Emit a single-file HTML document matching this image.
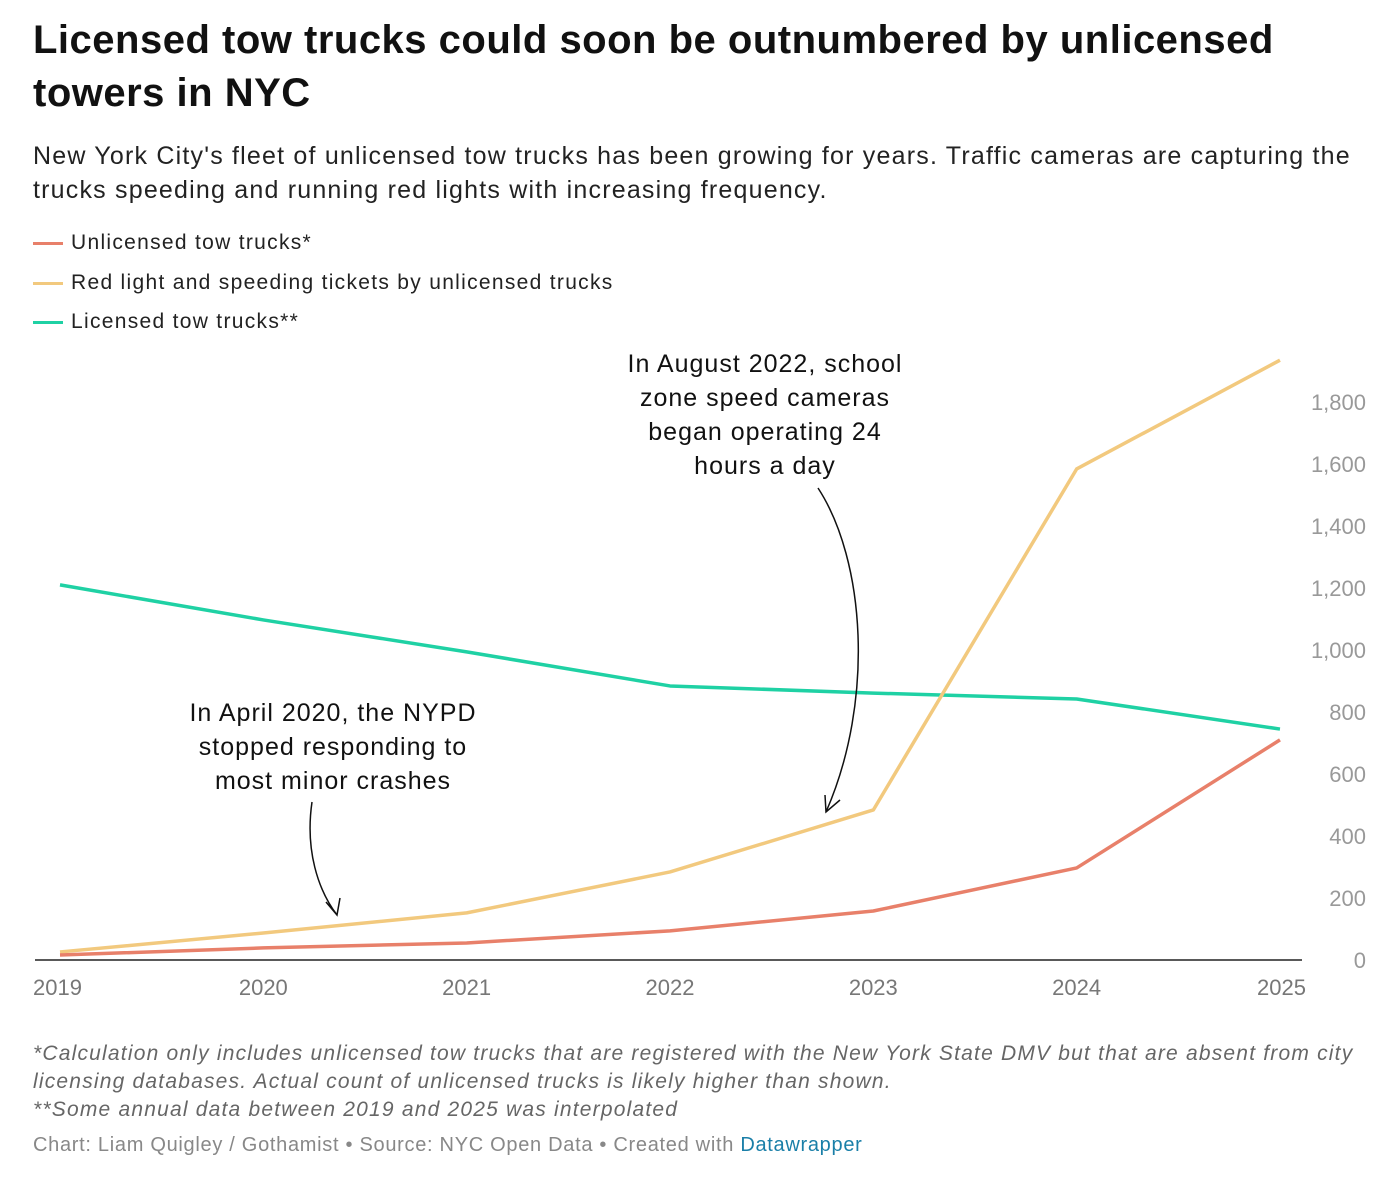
<!DOCTYPE html>
<html><head><meta charset="utf-8">
<style>
body{margin:0;width:1387px;height:1200px;background:#fff;font-family:"Liberation Sans",sans-serif;position:relative;overflow:hidden}
.t{position:absolute;left:33px;top:14px;font-size:40px;font-weight:bold;line-height:53px;color:#111;letter-spacing:0.5px}
.s{position:absolute;left:33px;top:139px;font-size:25px;line-height:34px;color:#222;width:1345px;letter-spacing:1.2px}
.lg{position:absolute;left:33px;font-size:21px;color:#222;letter-spacing:1.3px}
.lg span{display:inline-block;width:30px;height:3px;vertical-align:middle;margin-right:8px}
.f{position:absolute;left:33px;top:1040px;font-size:21px;line-height:28px;font-style:italic;color:#666;letter-spacing:1.2px;white-space:nowrap}
.c{position:absolute;left:33px;top:1134px;font-size:20px;color:#888;letter-spacing:0.7px}
</style></head><body>
<div class="t">Licensed tow trucks could soon be outnumbered by unlicensed<br>towers in NYC</div>
<div class="s">New York City's fleet of unlicensed tow trucks has been growing for years. Traffic cameras are capturing the<br>trucks speeding and running red lights with increasing frequency.</div>
<div class="lg" style="top:231px"><span style="background:#e8806a"></span>Unlicensed tow trucks*</div>
<div class="lg" style="top:271px"><span style="background:#f2c97e"></span>Red light and speeding tickets by unlicensed trucks</div>
<div class="lg" style="top:310px"><span style="background:#1fd1a4"></span>Licensed tow trucks**</div>
<svg id="ch" width="1387" height="1200" style="position:absolute;left:0;top:0"></svg>
<div class="f">*Calculation only includes unlicensed tow trucks that are registered with the New York State DMV but that are absent from city<br>licensing databases. Actual count of unlicensed trucks is likely higher than shown.<br>**Some annual data between 2019 and 2025 was interpolated</div>
<div class="c">Chart: Liam Quigley / Gothamist • Source: NYC Open Data • Created with <span style="color:#1a7fa8">Datawrapper</span></div>
<script>
const years=[2019,2020,2021,2022,2023,2024,2025];
const unlicensed=[16,39,55,94,158,297,710];
const tickets=[26,87,152,284,484,1584,1935];
const licensed=[1210,1097,994,884,861,842,745];
const yTicks=[0,200,400,600,800,1000,1200,1400,1600,1800];
const NS="http://www.w3.org/2000/svg";
const svg=document.getElementById('ch');
const x=y=>60+(y-2019)*203.33;
const yS=v=>960-v*0.31;
function mk(t,a){const e=document.createElementNS(NS,t);for(const k in a)e.setAttribute(k,a[k]);svg.appendChild(e);return e;}
yTicks.forEach(v=>{const t=mk('text',{x:1366,y:yS(v)+8,'text-anchor':'end','font-size':22,fill:'#999','font-family':'Liberation Sans'});t.textContent=v.toLocaleString('en-US');

});
years.forEach((yr,i)=>{const t=mk('text',{x:i==0?33:(i==6?1306:x(yr)),y:995,'text-anchor':i==0?'start':(i==6?'end':'middle'),'font-size':22,fill:'#777','font-family':'Liberation Sans'});t.textContent=yr;

});
const base=mk('line',{x1:35,x2:1302,y1:960,y2:960,stroke:'#222','stroke-width':1.5});


[[licensed,'#1fd1a4','line-licensed'],[tickets,'#f2c97e','line-tickets'],[unlicensed,'#e8806a','line-unlicensed']].forEach(([d,c,n])=>{
const p=mk('polyline',{points:d.map((v,i)=>x(years[i])+','+yS(v)).join(' '),fill:'none',stroke:c,'stroke-width':3.5,'stroke-linejoin':'round'});

});
function ann(lines,cx,y0,name){lines.forEach((l,i)=>{const t=mk('text',{x:cx,y:y0+i*34,'text-anchor':'middle','font-size':25,fill:'#111','font-family':'Liberation Sans','letter-spacing':1});t.textContent=l;

});}
ann(['In April 2020, the NYPD','stopped responding to','most minor crashes'],333,721,'annotation-2020');
ann(['In August 2022, school','zone speed cameras','began operating 24','hours a day'],765,372,'annotation-2022');
const a1=mk('path',{d:'M312,802 C305,850 318,890 337,915 M326,902 L337,915 L340,898',fill:'none',stroke:'#111','stroke-width':1.5});


const a2=mk('path',{d:'M818,488 C865,560 875,700 826,812 M825,795 L826,812 L840,800',fill:'none',stroke:'#111','stroke-width':1.5});


</script>
</body></html>
